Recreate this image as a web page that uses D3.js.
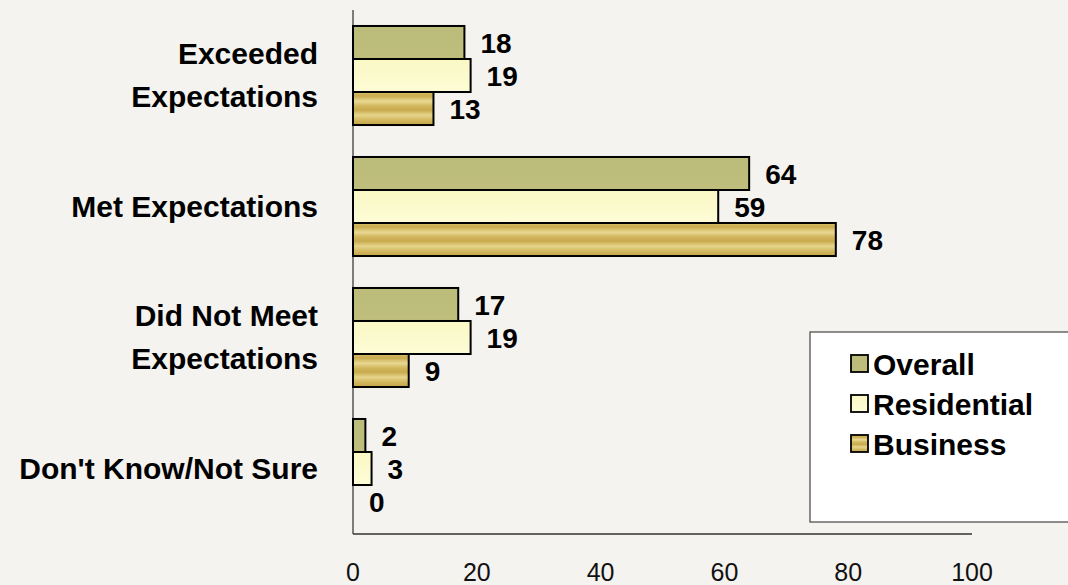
<!DOCTYPE html>
<html>
<head>
<meta charset="utf-8">
<script src="https://cdn.jsdelivr.net/npm/d3@7/dist/d3.min.js"></script>
<style>
  html, body { margin: 0; padding: 0; background: #f4f3ef; }
  svg { display: block; font-family: "Liberation Sans", Arial, sans-serif; }
</style>
</head>
<body>
<svg id="chart" width="1068" height="585"></svg>
<script>
const categories = ["Exceeded Expectations", "Met Expectations", "Did Not Meet Expectations", "Don't Know/Not Sure"];
const categoryLines = [["Exceeded", "Expectations"], ["Met Expectations"], ["Did Not Meet", "Expectations"], ["Don't Know/Not Sure"]];
const seriesNames = ["Overall", "Residential", "Business"];
const overall = [18, 64, 17, 2];
const residential = [19, 59, 19, 3];
const business = [13, 78, 9, 0];
const tickValues = [0, 20, 40, 60, 80, 100];

const seriesValues = [overall, residential, business];
const svg = d3.select("#chart");

// gradients
const defs = svg.append("defs");
const gOverall = defs.append("linearGradient").attr("id", "gOverall").attr("x1", 0).attr("y1", 0).attr("x2", 0).attr("y2", 1);
[[0, "#bcbc7a"], [1, "#bfbe7c"]].forEach(s => gOverall.append("stop").attr("offset", s[0]).attr("stop-color", s[1]));
const gRes = defs.append("linearGradient").attr("id", "gRes").attr("x1", 0).attr("y1", 0).attr("x2", 0).attr("y2", 1);
[[0, "#faf8c4"], [1, "#fdfcd6"]].forEach(s => gRes.append("stop").attr("offset", s[0]).attr("stop-color", s[1]));
const gBus = defs.append("linearGradient").attr("id", "gBus").attr("x1", 0).attr("y1", 0).attr("x2", 0).attr("y2", 1);
[[0, "#d9c06a"], [0.12, "#c9ab4e"], [0.28, "#e9d993"], [0.42, "#d2b75e"], [0.55, "#c8aa4d"], [0.7, "#e6d58c"], [0.85, "#d3b85f"], [1, "#c4a548"]]
  .forEach(s => gBus.append("stop").attr("offset", s[0]).attr("stop-color", s[1]));
const fills = ["url(#gOverall)", "url(#gRes)", "url(#gBus)"];

const x = d3.scaleLinear().domain([0, 100]).range([353, 972]);
const y = d3.scaleBand().domain(categories).range([10, 534]).paddingInner(0.244).paddingOuter(0.122);
const ySub = d3.scaleBand().domain(seriesNames).range([0, y.bandwidth()]);

// axes lines
svg.append("line").attr("x1", x(0)).attr("x2", x(0)).attr("y1", 10).attr("y2", 534)
  .attr("stroke", "#555").attr("stroke-width", 1.5);
svg.append("line").attr("x1", x(0)).attr("x2", x(100)).attr("y1", 534).attr("y2", 534)
  .attr("stroke", "#333").attr("stroke-width", 1.5);

// tick labels
svg.append("g").selectAll("text").data(tickValues).join("text")
  .attr("x", d => x(d)).attr("y", 581)
  .attr("text-anchor", "middle").attr("font-size", 25).attr("fill", "#111")
  .text(d => d);

// category labels
categories.forEach((c, i) => {
  const lines = categoryLines[i];
  const cy = y(c) + y.bandwidth() / 2 + 10;
  const t = svg.append("text").attr("text-anchor", "end").attr("font-size", 30)
    .attr("font-weight", "bold").attr("fill", "#000");
  lines.forEach((l, j) => {
    t.append("tspan").attr("x", 318)
      .attr("y", cy + (j - (lines.length - 1) / 2) * 43)
      .text(l);
  });
});

// bars
const groups = svg.append("g").selectAll("g").data(categories).join("g")
  .attr("transform", d => `translate(0,${y(d)})`);
seriesNames.forEach((s, si) => {
  groups.append("rect")
    .attr("x", x(0))
    .attr("y", ySub(s))
    .attr("width", (d, i) => x(seriesValues[si][i]) - x(0))
    .attr("height", ySub.bandwidth())
    .attr("fill", fills[si])
    .attr("stroke", (d, i) => seriesValues[si][i] > 0 ? "#000" : "none")
    .attr("stroke-width", 2);
  groups.append("text")
    .attr("x", (d, i) => x(seriesValues[si][i]) + 16)
    .attr("y", ySub(s) + ySub.bandwidth() / 2 + 1)
    .attr("dominant-baseline", "central")
    .attr("font-size", 28).attr("font-weight", "bold").attr("fill", "#000")
    .text((d, i) => seriesValues[si][i]);
});

// legend
const lg = svg.append("g");
lg.append("rect").attr("x", 810).attr("y", 332).attr("width", 262).attr("height", 190)
  .attr("fill", "#fff").attr("stroke", "#444").attr("stroke-width", 1.2);
seriesNames.forEach((s, i) => {
  const yy = 355 + i * 40;
  lg.append("rect").attr("x", 851).attr("y", yy).attr("width", 17).attr("height", 17)
    .attr("fill", fills[i]).attr("stroke", "#000").attr("stroke-width", 1.8);
  lg.append("text").attr("x", 873).attr("y", yy + 20)
    .attr("font-size", 30).attr("font-weight", "bold").attr("fill", "#000").text(s);
});
</script>
</body>
</html>
